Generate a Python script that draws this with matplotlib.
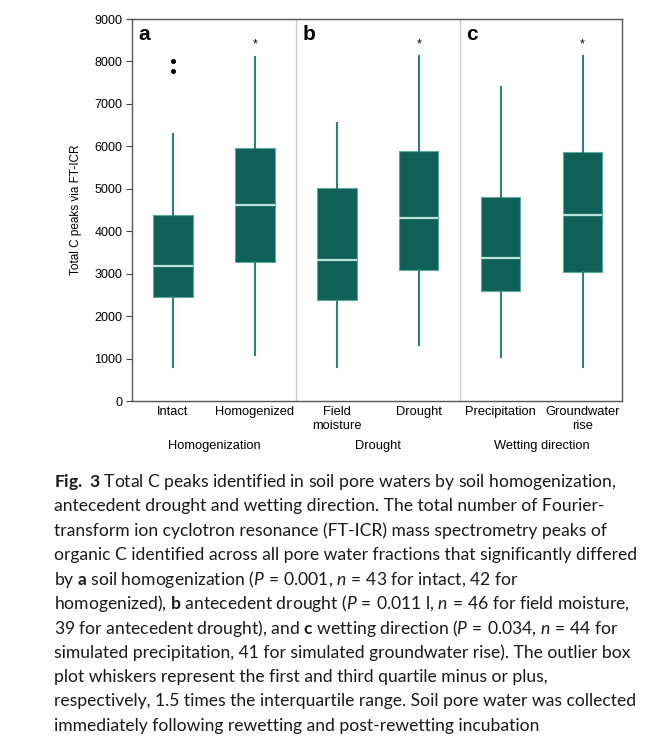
import matplotlib
matplotlib.use("Agg")
import matplotlib.pyplot as plt
from matplotlib.transforms import blended_transform_factory

# values
groups = ["Homogenization", "Drought", "Wetting direction"]
panel_letters = ["a", "b", "c"]
categories = ["Intact", "Homogenized", "Field\nmoisture", "Drought",
              "Precipitation", "Groundwater\nrise"]
whislo = [810, 1085, 810, 1310, 1045, 810]
q1 = [2445, 3270, 2380, 3080, 2590, 3030]
med = [3190, 4615, 3315, 4305, 3375, 4385]
q3 = [4385, 5970, 5025, 5900, 4800, 5860]
whishi = [6290, 8115, 6545, 8130, 7405, 8130]
fliers = [[7785, 8010], [], [], [], [], []]
significant = [False, True, False, True, False, True]

box_fill = "#0f6157"
box_edge = "#5fa89e"
median_col = "#b8e2da"
whisker_col = "#2f8177"

plt.rcParams["font.family"] = ["Liberation Sans", "DejaVu Sans"]
plt.rcParams["mathtext.fontset"] = "custom"
plt.rcParams["mathtext.rm"] = "Lato"
plt.rcParams["mathtext.bf"] = "Lato:bold"
plt.rcParams["mathtext.it"] = "Lato:italic"

fig = plt.figure(figsize=(6.54, 7.54), dpi=100)
ax = fig.add_axes([132 / 654, 1 - 401 / 754, 490 / 654, 382 / 754])

stats = []
for i in range(len(categories)):
    stats.append({"whislo": whislo[i], "q1": q1[i], "med": med[i],
                  "q3": q3[i], "whishi": whishi[i], "fliers": fliers[i]})

ax.bxp(stats, positions=range(len(categories)), widths=0.48,
       patch_artist=True, showcaps=False,
       boxprops=dict(facecolor=box_fill, edgecolor=box_edge, linewidth=0.8),
       medianprops=dict(color=median_col, linewidth=1.6),
       whiskerprops=dict(color=whisker_col, linewidth=1.5),
       flierprops=dict(marker="o", markerfacecolor="black",
                       markeredgecolor="black", markersize=2.6))

ax.set_xlim(-0.5, 5.48)
ax.set_ylim(0, 9000)
ax.set_yticks(range(0, 9001, 1000))
ax.tick_params(axis="y", labelsize=9, length=4, width=0.8, color="#444444", pad=3)
ax.tick_params(axis="x", length=0, labelbottom=False)
for s in ax.spines.values():
    s.set_color("#555555")
    s.set_linewidth(1.0)

for xd in [1.5, 3.5]:
    ax.axvline(xd, color="#c8c8c8", linewidth=0.9)

for i, st in enumerate(significant):
    if st:
        ax.text(i, 8250, "*", ha="center", va="bottom", fontsize=9)

for j, letter in enumerate(panel_letters):
    ax.text(2 * j - 0.42, 8850, letter, ha="left", va="top",
            fontsize=15, fontweight="bold")

ax.set_ylabel("Total C peaks via FT-ICR", fontsize=8.5, labelpad=9)

tr = blended_transform_factory(ax.transData, fig.transFigure)
for i, c in enumerate(categories):
    ax.text(i, 1 - 406 / 754, c, transform=tr, ha="center", va="top",
            fontsize=9.3, linespacing=1.25)
for j, g in enumerate(groups):
    ax.text(2 * j + 0.5, 1 - 446 / 754, g, transform=tr, ha="center",
            va="center", fontsize=9.3)

caption = [
    r"$\mathbf{Fig.\ 3}$ Total C peaks identified in soil pore waters by soil homogenization,",
    "antecedent drought and wetting direction. The total number of Fourier-",
    "transform ion cyclotron resonance (FT-ICR) mass spectrometry peaks of",
    "organic C identified across all pore water fractions that significantly differed",
    r"by $\mathbf{a}$ soil homogenization ($\mathit{P}\,=\,$0.001, $\mathit{n}\,=\,$43 for intact, 42 for",
    r"homogenized), $\mathbf{b}$ antecedent drought ($\mathit{P}\,=\,$0.011 l, $\mathit{n}\,=\,$46 for field moisture,",
    r"39 for antecedent drought), and $\mathbf{c}$ wetting direction ($\mathit{P}\,=\,$0.034, $\mathit{n}\,=\,$44 for",
    "simulated precipitation, 41 for simulated groundwater rise). The outlier box",
    "plot whiskers represent the first and third quartile minus or plus,",
    "respectively, 1.5 times the interquartile range. Soil pore water was collected",
    "immediately following rewetting and post-rewetting incubation",
]
for k, line in enumerate(caption):
    y = 482 + 24.35 * k
    fig.text(54 / 654, 1 - y / 754, line, ha="left", va="center",
             fontsize=12.6, family=["Lato", "DejaVu Sans"], color="#1a1a1a")

fig.savefig("out.png", dpi=100)
